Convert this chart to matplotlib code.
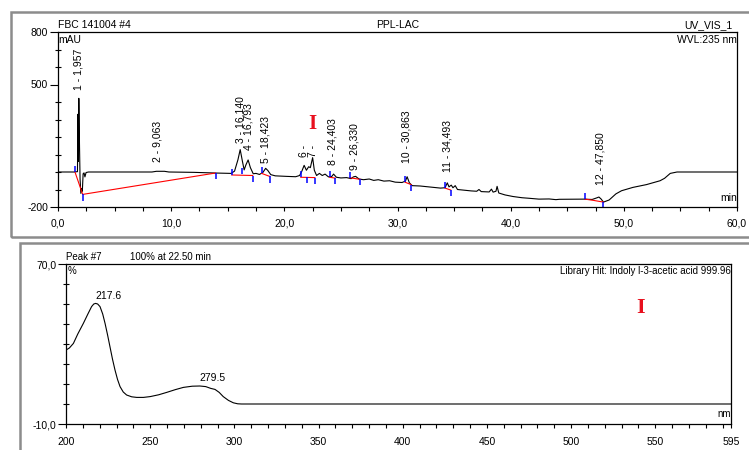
import numpy as np
import matplotlib
matplotlib.use('Agg')
import matplotlib.pyplot as plt
from matplotlib.patches import Rectangle

plt.rcParams['font.family'] = ['Liberation Sans', 'DejaVu Sans']

## chromatogram trace, time (min) and signal (mAU)
chromTime = [0, 1.45, 1.72, 1.76, 1.80, 1.84, 1.90, 1.95, 2.02, 2.10, 2.15, 2.22, 2.30, 2.38, 2.48, 2.7,
             8.3, 8.7, 9.4, 9.8, 12.0, 14.0, 15.3, 15.6, 15.9, 16.1, 16.3, 16.45, 16.6, 16.8, 17.0, 17.25,
             17.5, 17.8, 18.1, 18.35, 18.55, 18.8, 19.2, 20.2, 21.0, 21.35, 21.55, 21.75, 21.95, 22.15, 22.3,
             22.5, 22.65, 22.85, 23.1, 23.35, 23.6, 23.9, 24.2, 24.35, 24.6, 25.0, 25.5, 25.9, 26.1, 26.3,
             26.6, 27.0, 27.5, 27.9, 28.3, 28.8, 29.3, 29.8, 30.4, 30.7, 30.85, 31.05, 31.3, 32.0, 32.6, 33.2,
             33.8, 34.2, 34.4, 34.55, 34.75, 34.9, 35.1, 35.3, 35.9, 36.5, 37.0, 37.2, 37.4, 38.1, 38.3, 38.45,
             38.7, 38.8, 38.95, 39.5, 40.2, 41.0, 41.6, 42.5, 43.4, 44.0, 44.3, 46.5, 47.2, 47.6, 47.8, 48.0,
             48.2, 48.7, 49.3, 49.8, 50.8, 52.0, 53.2, 53.6, 54.1, 54.7, 60.0]
chromSignal = [0, 0, 2, 330, 60, 421, 150, -40, -122, -95, -110, -10, -5, -28, -3, 0,
               0, 4, 4, 0, -2, -6, -8, 5, 70, 128, 60, 12, 40, 69, 25, -10,
               -8, -14, -3, 21, 8, -15, -22, -25, -27, -20, 5, 38, 10, 30, 25,
               82, 10, -20, -8, -20, -12, -28, -25, -12, -30, -34, -32, -38, -28, -25,
               -40, -44, -40, -48, -44, -52, -50, -58, -60, -52, -27, -62, -78, -80, -84, -88,
               -92, -90, -62, -85, -75, -90, -78, -100, -104, -108, -110, -100, -112, -114, -98, -115,
               -110, -82, -120, -131, -140, -147, -150, -155, -154, -158, -156, -155, -157, -148, -143, -155,
               -172, -160, -125, -107, -88, -72, -50, -36, -8, 0, 0]

## peak labels
peakNames = ['1 - 1,957', '2 - 9,063', '3 - 16,140', '4 - 16,793', '5 - 18,423', '6 -', '7 -',
             '8 - 24,403', '9 - 26,330', '10 - 30,863', '11 - 34,493', '12 - 47,850']
peakLabelT = [1.77, 8.8, 16.1, 16.8, 18.3, 21.7, 22.55, 24.3, 26.2, 30.8, 34.4, 47.9]
peakLabelV = [469, 57, 166, 126, 51, 86, 86, 40, 11, 51, 0, -74]

## integration baselines (red) and peak delimiters (blue)
baselineT = [[1.5, 2.18, 13.9], [15.35, 17.2], [18.0, 18.7], [21.45, 22.7], [24.0, 24.5],
             [25.8, 26.7], [30.66, 31.2], [34.2, 34.7], [46.57, 47.3, 48.2]]
baselineV = [[0, -128, -6], [-17, -20], [-8, -25], [-30, -32], [-30, -35],
             [-33, -42], [-58, -72], [-92, -103], [-155, -162, -172]]
startT = [1.5, 15.35, 16.3, 18.0, 21.45, 24.0, 25.8, 30.66, 34.2, 46.57]
startV = [0, -17, -10, -8, -30, -30, -33, -58, -92, -155]
endT = [2.18, 14.0, 17.2, 18.7, 21.98, 22.7, 24.5, 26.7, 31.2, 34.7, 48.2]
endV = [-128, -6, -20, -25, -30, -32, -35, -42, -72, -103, -172]

chromXTicks = [0, 10, 20, 30, 40, 50, 60]
chromXLabels = ['0,0', '10,0', '20,0', '30,0', '40,0', '50,0', '60,0']
chromYTicks = [-200, 500, 800]
chromYLabels = ['-200', '500', '800']

## UV spectrum of peak 7, wavelength (nm) and relative absorbance (%)
specWvl = [200, 202, 204.4, 207, 210.3, 213, 215.2, 216.5, 217.6, 218.8, 220.2, 221.8, 223.2, 224.7,
           226.1, 227.6, 229.1, 230.6, 232.1, 234, 236, 239, 242, 246, 250, 255, 259.8, 265, 269.7,
           275, 279.5, 283, 286, 288.5, 291, 293.4, 296.5, 299.4, 302, 304.3, 595]
specVal = [27, 28, 30.3, 35, 40.3, 45, 48.7, 50, 50.3, 50, 48.7, 45, 40.3, 34.5,
           28.7, 22.5, 17, 12.3, 8.7, 6, 4.5, 3.6, 3.3, 3.3, 3.7, 4.6, 5.8, 7.2, 8.3,
           8.9, 9.0, 8.7, 7.8, 7.3, 5.8, 3.7, 1.8, 0.6, 0.1, 0, 0]

specXTicks = [200, 250, 300, 350, 400, 450, 500, 550, 595]
specXLabels = ['200', '250', '300', '350', '400', '450', '500', '550', '595']
specYTicks = [-10, 70]
specYLabels = ['-10,0', '70,0']

W, H = 749, 450


def figRect(x0, y0, x1, y1):
    # pixel box (top-left origin) -> figure fraction rect
    return [x0 / W, 1 - y1 / H, (x1 - x0) / W, (y1 - y0) / H]


fig = plt.figure(figsize=(W / 100, H / 100), dpi=100)

# grey panel frames
fig.patches.append(Rectangle((11 / W, 1 - 237 / H), 745 / W, 225 / H, transform=fig.transFigure,
                             fill=False, edgecolor='#8c8c8c', linewidth=1.8))
fig.patches.append(Rectangle((20 / W, 1 - 470 / H), 740 / W, 227 / H, transform=fig.transFigure,
                             fill=False, edgecolor='#8c8c8c', linewidth=1.8))

## chromatogram
ax1 = fig.add_axes(figRect(58, 32, 737, 207))
ax1.plot(chromTime, chromSignal, color='black', linewidth=0.8)
for bt, bv in zip(baselineT, baselineV):
    ax1.plot(bt, bv, color='red', linewidth=0.8)
ax1.vlines(startT, np.array(startV), np.array(startV) + 35, color='blue', linewidth=1.1)
ax1.vlines(endT, np.array(endV), np.array(endV) - 35, color='blue', linewidth=1.1)
for name, t, v in zip(peakNames, peakLabelT, peakLabelV):
    ax1.text(t, v, name, rotation=90, ha='center', va='bottom', fontsize=7.5)

ax1.set_xlim(0, 60)
ax1.set_ylim(-200, 800)
ax1.set_xticks(chromXTicks)
ax1.set_xticklabels(chromXLabels)
ax1.set_xticks(np.arange(0, 60.1, 2.5), minor=True)
ax1.set_yticks(chromYTicks)
ax1.set_yticklabels(chromYLabels)
ax1.set_yticks(np.arange(-200, 801, 100), minor=True)
ax1.tick_params(axis='x', which='both', direction='out', length=3, width=0.8, labelsize=7.5, pad=5)
ax1.tick_params(axis='y', which='major', direction='out', length=6, width=0.8, labelsize=7.5, pad=1)
ax1.tick_params(axis='y', which='minor', direction='inout', length=4, width=0.8)
for s in ax1.spines.values():
    s.set_linewidth(0.9)

ax1.text(0, 1.012, 'FBC 141004 #4', transform=ax1.transAxes, ha='left', va='bottom', fontsize=7.5)
ax1.text(0.5, 1.012, 'PPL-LAC', transform=ax1.transAxes, ha='center', va='bottom', fontsize=7.5)
ax1.text(0.993, 1.012, 'UV_VIS_1', transform=ax1.transAxes, ha='right', va='bottom', fontsize=7.5)
ax1.text(1.0, 0.985, 'WVL:235 nm', transform=ax1.transAxes, ha='right', va='top', fontsize=7.5)
ax1.text(0.0, 0.985, 'mAU', transform=ax1.transAxes, ha='left', va='top', fontsize=7.5)
ax1.text(1.0, 0.02, 'min', transform=ax1.transAxes, ha='right', va='bottom', fontsize=7.5)
ax1.text(22.44, 274, 'I', color='#e8101e', ha='center', va='center', fontsize=15,
         fontweight='bold', family=['Liberation Serif', 'DejaVu Serif'])

## spectrum
ax2 = fig.add_axes(figRect(66, 264, 731, 424))
ax2.plot(specWvl, specVal, color='black', linewidth=0.8)
ax2.set_xlim(200, 595)
ax2.set_ylim(-10, 70)
ax2.set_xticks(specXTicks)
ax2.set_xticklabels(specXLabels)
ax2.set_xticks(np.arange(200, 595, 10), minor=True)
ax2.set_yticks(specYTicks)
ax2.set_yticklabels(specYLabels)
ax2.set_yticks(np.arange(-10, 71, 10), minor=True)
ax2.tick_params(axis='x', which='both', direction='out', length=3, width=0.8, labelsize=7.5, pad=6.5)
ax2.tick_params(axis='y', which='major', direction='out', length=6, width=0.8, labelsize=7.5, pad=1)
ax2.tick_params(axis='y', which='minor', direction='inout', length=4, width=0.8)
for s in ax2.spines.values():
    s.set_linewidth(0.9)

ax2.text(217.6, 51.5, '217.6', ha='left', va='bottom', fontsize=7.5)
ax2.text(279.3, 10.5, '279.5', ha='left', va='bottom', fontsize=7.5)
ax2.text(0.0, 1.012, 'Peak #7', transform=ax2.transAxes, ha='left', va='bottom', fontsize=7)
ax2.text(0.096, 1.012, '100% at 22.50 min', transform=ax2.transAxes, ha='left', va='bottom', fontsize=7)
ax2.text(0.003, 0.985, '%', transform=ax2.transAxes, ha='left', va='top', fontsize=7)
ax2.text(1.0, 0.985, 'Library Hit: Indoly l-3-acetic acid 999.96', transform=ax2.transAxes,
         ha='right', va='top', fontsize=7)
ax2.text(1.0, 0.03, 'nm', transform=ax2.transAxes, ha='right', va='bottom', fontsize=7)
ax2.text(541.5, 48, 'I', color='#e8101e', ha='center', va='center', fontsize=16,
         fontweight='bold', family=['Liberation Serif', 'DejaVu Serif'])

fig.savefig('out.png', dpi=100)
